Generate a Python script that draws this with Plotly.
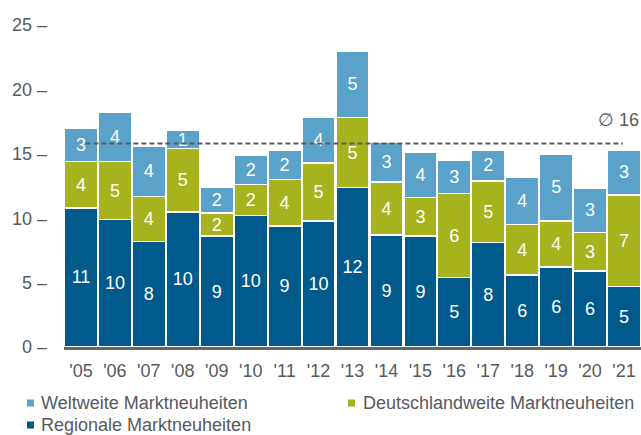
import plotly.graph_objects as go

years = ["'05", "'06", "'07", "'08", "'09", "'10", "'11", "'12", "'13",
         "'14", "'15", "'16", "'17", "'18", "'19", "'20", "'21"]
regional = [10.8, 9.9, 8.2, 10.5, 8.6, 10.2, 9.4, 9.8, 12.4, 8.7, 8.6, 5.4, 8.1, 5.6, 6.2, 5.9, 4.7]
national = [3.6, 4.5, 3.5, 4.9, 1.8, 2.4, 3.6, 4.5, 5.4, 4.1, 3.0, 6.5, 4.8, 3.9, 3.6, 3.0, 7.1]
worldwide = [2.6, 3.8, 3.9, 1.4, 2.0, 2.3, 2.3, 3.5, 5.2, 3.1, 3.5, 2.6, 2.4, 3.7, 5.2, 3.4, 3.5]
regional_labels = [11, 10, 8, 10, 9, 10, 9, 10, 12, 9, 9, 5, 8, 6, 6, 6, 5]
national_labels = [4, 5, 4, 5, 2, 2, 4, 5, 5, 4, 3, 6, 5, 4, 4, 3, 7]
worldwide_labels = [3, 4, 4, 1, 2, 2, 2, 4, 5, 3, 4, 3, 2, 4, 5, 3, 3]
average = 15.8
average_label = "∅ 16"
series_names = ["Weltweite Marktneuheiten", "Deutschlandweite Marktneuheiten", "Regionale Marktneuheiten"]
y_ticks = [0, 5, 10, 15, 20, 25]

C_REG = "#005a8c"
C_NAT = "#a6b31c"
C_WW = "#5aa2c9"
FONT = "Liberation Sans, Arial, sans-serif"
GRAY = "#555a5f"

x = list(range(len(years)))

fig = go.Figure()
for vals, labs, col, name in [
    (regional, regional_labels, C_REG, series_names[2]),
    (national, national_labels, C_NAT, series_names[1]),
    (worldwide, worldwide_labels, C_WW, series_names[0]),
]:
    fig.add_trace(go.Bar(
        x=x, y=vals, name=name,
        text=[str(v) for v in labs],
        textposition="inside", insidetextanchor="middle",
        textangle=0, constraintext="none",
        textfont=dict(color="white", size=18, family=FONT),
        marker=dict(color=col, line=dict(color="white", width=1.5)),
        showlegend=False, hoverinfo="skip",
    ))

# average line
fig.add_shape(type="line", xref="x", yref="y", x0=0.13, x1=15.97,
              y0=average, y1=average, layer="above",
              line=dict(color="#5a5a5a", width=2, dash="5px,3px"))
fig.add_annotation(xref="paper", yref="y", x=1.0, y=average + 1.8,
                   text=average_label, showarrow=False, xanchor="right", yanchor="middle",
                   font=dict(size=18, color=GRAY, family=FONT))

# legend (squares + text)
L, W = 64, 577
T, B = 5, 347
def px(v):
    return (v - L) / W
def py(v):
    return (B - v) / (B - T)

legend_items = [
    (series_names[0], C_WW, 27, 39, 403),
    (series_names[1], C_NAT, 348, 361, 403),
    (series_names[2], C_REG, 27, 39, 425),
]
for name, col, sx, tx, cy in legend_items:
    fig.add_shape(type="rect", xref="paper", yref="paper",
                  x0=px(sx), x1=px(sx + 7), y0=py(cy + 3.5), y1=py(cy - 3.5),
                  fillcolor=col, line=dict(width=0))
    fig.add_annotation(xref="paper", yref="paper", x=px(tx), y=py(cy),
                       text=name, showarrow=False, xanchor="left", yanchor="middle",
                       font=dict(size=18, color=GRAY, family=FONT))

fig.update_layout(
    width=641, height=435,
    margin=dict(l=L, r=0, t=T, b=435 - B),
    barmode="stack", bargap=0.02,
    plot_bgcolor="white", paper_bgcolor="white",
    font=dict(family=FONT, color=GRAY),
    xaxis=dict(tickvals=x, ticktext=years, range=[-0.5, 16.5],
               showgrid=False, zeroline=False, showline=True,
               linecolor="#62676c", linewidth=3, ticks="",
               tickfont=dict(size=18, color=GRAY), ticklabelstandoff=5),
    yaxis=dict(range=[0, (B - T) / 12.88], tickvals=y_ticks,
               ticktext=[f"{v} –" for v in y_ticks],
               showgrid=False, zeroline=False, showline=False, ticks="",
               tickfont=dict(size=18, color=GRAY), ticklabelstandoff=16),
)

fig.write_html("out.html", config={"displayModeBar": False},
               post_script="document.body.style.margin='0';document.body.style.overflow='hidden';")
